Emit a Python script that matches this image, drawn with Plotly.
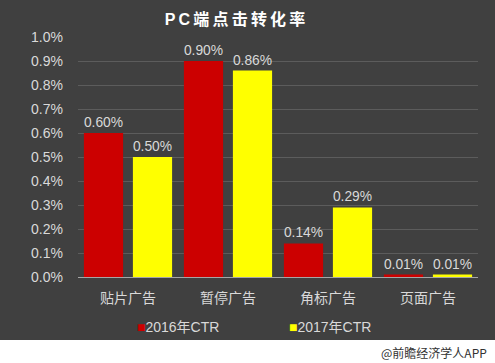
import plotly.graph_objects as go

categories = ["贴片广告", "暂停广告", "角标广告", "页面广告"]
ctr_2016 = [0.0060, 0.0090, 0.0014, 0.0001]
ctr_2017 = [0.0050, 0.0086, 0.0029, 0.0001]
series_names = ["2016年CTR", "2017年CTR"]
series_colors = ["#cc0000", "#ffff00"]

W, H = 495, 363
ml, mr, mt, mb = 78, 17, 37, 86
pw, ph = W - ml - mr, H - mt - mb

font_fam = "Arial, Liberation Sans, Noto Sans CJK SC, sans-serif"
txt_col = "#d9d9d9"

fig = go.Figure()
for name, vals, col in zip(series_names, [ctr_2016, ctr_2017], series_colors):
    fig.add_trace(go.Bar(
        x=categories, y=vals, name=name, marker=dict(color=col, line=dict(width=0)),
        text=[f"{v*100:.2f}%" for v in vals], textposition="outside",
        textfont=dict(color=txt_col, size=14, family=font_fam), cliponaxis=False,
        showlegend=False,
    ))

def py(px):
    return (H - mb - px) / ph

def pxx(px):
    return (px - ml) / pw

title_txt = "\u2009".join(list("PC端点击转化率"))

legend_ann = []
for name, col, xl in zip(series_names, series_colors, [135, 287]):
    legend_ann.append(dict(
        text=f"<span style='color:{col}'>■</span>{name}", xref="paper", yref="paper",
        x=pxx(xl), xanchor="left", y=py(327), yanchor="middle", showarrow=False,
        font=dict(size=14, color=txt_col, family=font_fam)))

fig.update_layout(
    width=W, height=H,
    margin=dict(l=ml, r=mr, t=mt, b=mb, autoexpand=False),
    paper_bgcolor="#404040", plot_bgcolor="#404040",
    barmode="group", bargap=0.02, bargroupgap=0.2,
    font=dict(family=font_fam, color=txt_col, size=13),
    title=dict(text=f"<b>{title_txt}</b>", x=235 / W, xanchor="center", xref="container",
               y=1 - 19 / H, yanchor="middle", yref="container",
               font=dict(size=16, color="#ffffff", family=font_fam)),
    xaxis=dict(showgrid=False, showline=True, linecolor="#a6a6a6", linewidth=1, automargin=False,
               tickfont=dict(size=14, color=txt_col), ticks="", ticklabelstandoff=8),
    yaxis=dict(range=[0, 0.01], dtick=0.001, tickformat=".1%", showgrid=True, automargin=False,
               gridcolor="#5c5c5c", gridwidth=1, zeroline=False, showline=False,
               tickfont=dict(size=14, color=txt_col), ticklabelstandoff=14),
    showlegend=False,
    shapes=[dict(type="rect", xref="paper", yref="paper", x0=pxx(-5), x1=pxx(W + 5),
                 y0=py(H + 5), y1=py(340), fillcolor="#ffffff", line=dict(width=0), layer="below")],
    annotations=legend_ann + [dict(text="@前瞻经济学人APP", xref="paper", yref="paper", x=pxx(489), xanchor="right",
                      y=py(352), yanchor="middle", showarrow=False,
                      font=dict(size=12, color="#333333", family="Noto Sans CJK SC, sans-serif"))],
)

fig.write_html("out.html", config={"displayModeBar": False},
               post_script="document.body.style.margin='0';document.body.style.overflow='hidden';")
